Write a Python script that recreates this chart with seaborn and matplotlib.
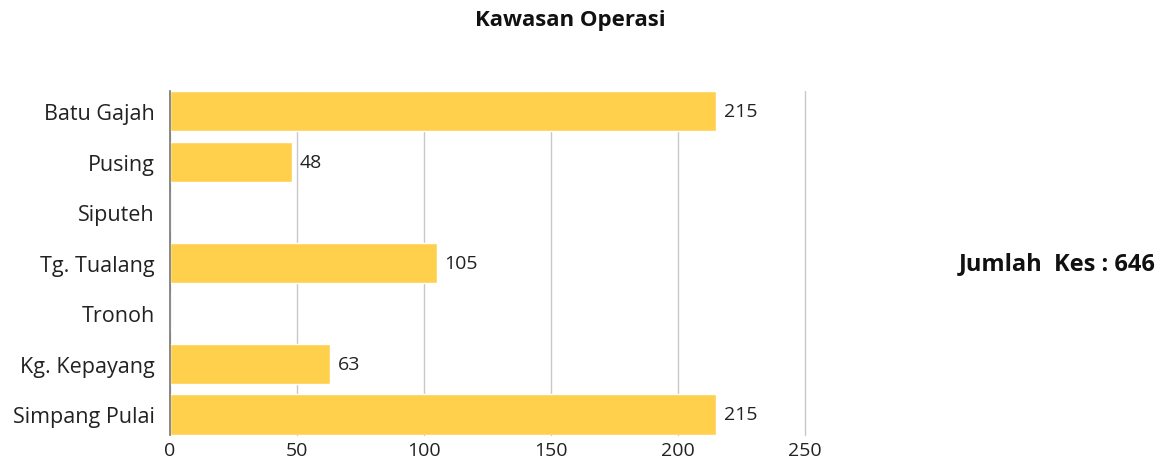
import pandas as pd
import seaborn as sns
import matplotlib.pyplot as plt

# data
kawasan = ['Batu Gajah', 'Pusing', 'Siputeh', 'Tg. Tualang', 'Tronoh', 'Kg. Kepayang', 'Simpang Pulai']
kes = [215, 48, 0, 105, 0, 63, 215]
jumlah = 646

df = pd.DataFrame({'kawasan': kawasan, 'kes': kes})

sns.set_theme(style='white')
plt.rcParams['font.family'] = ['Open Sans', 'DejaVu Sans']

fig = plt.figure(figsize=(11.64, 4.64), dpi=100)
ax = fig.add_axes([170 / 1164, 1 - 435.5 / 464, 635 / 1164, 343.5 / 464])

sns.barplot(data=df, x='kes', y='kawasan', color='#FFD04C', saturation=1,
            width=0.8, ax=ax, zorder=3)

ax.set_xlim(0, 250)
ax.set_ylim(6.4, -0.4)
ax.set_xticks([0, 50, 100, 150, 200, 250])
ax.grid(axis='x', color='#c8c8c8', linewidth=1, zorder=0)
for gl in ax.get_xgridlines():
    gl.set_clip_on(False)
ax.set_xlabel('')
ax.set_ylabel('')
for s in ['top', 'right', 'bottom']:
    ax.spines[s].set_visible(False)
ax.spines['left'].set_color('#777777')
ax.spines['left'].set_linewidth(1.2)
ax.spines['left'].set_zorder(4)
ax.tick_params(axis='x', length=0, labelsize=14, colors='#222222', pad=5)
ax.tick_params(axis='y', length=0, labelsize=15.5, colors='#222222', pad=11)

for i, v in enumerate(kes):
    if v > 0:
        ax.text(v + 3, i, str(v), va='center', ha='left', fontsize=14, color='#222222')

fig.text(0.49, 0.955, 'Kawasan Operasi', ha='center', va='center',
         fontsize=16, fontweight='bold', color='#111111')
fig.text(0.993, 1 - 264 / 464, 'Jumlah  Kes : %d' % jumlah, ha='right', va='center',
         fontsize=17, fontweight='bold', color='#111111')

fig.savefig('out.png', dpi=100)
